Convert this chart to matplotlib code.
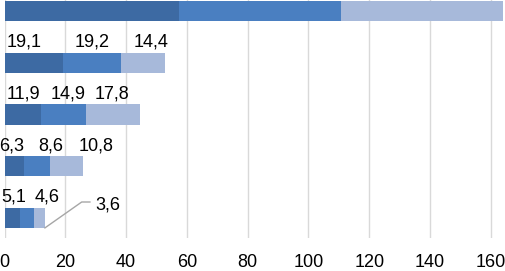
import numpy as np
import matplotlib
matplotlib.use("Agg")
import matplotlib.pyplot as plt

plt.rcParams["font.family"] = ["Liberation Sans", "DejaVu Sans"]

# bars from bottom to top
first = [5.1, 6.3, 11.9, 19.1, 57.4]
second = [4.6, 8.6, 14.9, 19.2, 53.2]
third = [3.6, 10.8, 17.8, 14.4, 53.3]
colors = ["#3d6aa3", "#4a7fc1", "#a7b9da"]

# label centres (data units), same order; the top bar's labels fall outside the picture
label_x = [
    [3.1, 14.1, 33.9],
    [2.3, 15.3, 30.3],
    [6.1, 20.8, 35.5],
    [6.6, 28.7, 48.2],
    [None, None, None],
]

xticks = np.arange(0, 161, 20)


def fmt(v):
    return f"{v:.1f}".replace(".", ",")


fig = plt.figure(figsize=(5.06, 2.71), dpi=100)
ax = fig.add_axes([4.5 / 506, 33 / 271, 501.5 / 506, 238 / 271])

pos = np.arange(len(first))
series = [np.array(first), np.array(second), np.array(third)]
left = np.zeros(len(first))
for vals, c in zip(series, colors):
    ax.barh(pos, vals, left=left, height=0.39, color=c, zorder=2)
    left = left + vals

for i in range(len(pos)):
    for j, vals in enumerate(series):
        x = label_x[i][j]
        if x is None:
            continue
        y = pos[i] + 0.40
        if i == 0 and j == 2:
            # leader line label on the smallest bar
            ax.plot([left[i], 25.4, 28.1], [pos[i] - 0.19, pos[i] + 0.31, pos[i] + 0.31],
                    color="#a6a6a6", lw=1, zorder=3, clip_on=False)
            y = pos[i] + 0.25
        ax.text(x, y, fmt(vals[i]), ha="center", va="center", fontsize=13,
                color="black")

ax.set_xlim(0, 165)
ax.set_ylim(-0.385, 4.21)
ax.set_xticks(xticks)
ax.set_xticklabels([str(t) for t in xticks], fontsize=13)
ax.set_yticks([])
ax.tick_params(axis="x", length=0, pad=11.5)
ax.grid(axis="x", color="#d9d9d9", lw=1, zorder=0)
for s in ax.spines.values():
    s.set_visible(False)

fig.savefig("out.png", dpi=100)
